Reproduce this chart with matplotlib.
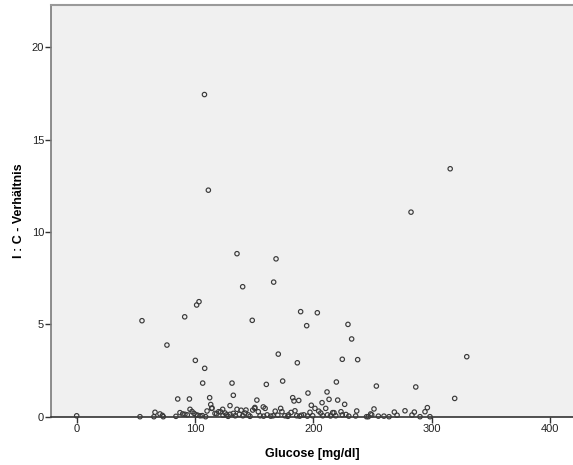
import matplotlib
matplotlib.use("Agg")
import matplotlib.pyplot as plt

plt.rcParams["font.family"] = ["Liberation Sans", "DejaVu Sans"]

# Glucose [mg/dl] and insulin : carbohydrate ratio per observation
glucose = [
    108.0, 111.3, 315.7, 282.6, 135.5, 168.5, 140.3, 166.5, 103.4, 101.4,
    91.3, 55.2, 148.4, 189.3, 203.4, 194.4, 229.3, 232.4, 76.3, 170.4,
    100.3, 186.5, 224.5, 237.5, 329.7, 108.2, 106.5, 131.3, 160.3, 174.1,
    219.5, 253.3, 286.6, 211.6, 195.5, 132.4, 319.5, 182.6, 112.4,
    85.4, 95.3, 152.3, 183.7, 187.7, 213.3, 220.6, 207.4, 226.5, 198.3,
    113.3, 129.6, 157.7, 296.4, 150.6,
    0.0, 53.5, 65.3, 66.2, 70.4, 72.5, 73.2,
    83.9, 87.3, 89.6, 91.5, 93.5, 95.8, 97.5, 99.2, 100.9, 102.3, 104.3, 106.2, 109.0,
    110.2, 114.4, 116.9, 118.3, 120.0, 121.7, 123.4, 123.7, 125.4, 126.8,
    129.6, 132.4, 135.5, 137.5, 139.0, 140.5, 142.3, 143.1, 145.1, 148.8,
    150.5, 153.5, 155.0, 159.3, 161.0, 164.0, 167.8, 170.0, 172.4, 173.5,
    176.0, 179.0, 181.2, 184.5, 186.0, 190.0, 192.0, 195.0, 197.2, 201.4,
    204.6, 206.3, 208.0, 210.5, 212.0, 216.4, 217.5, 219.0, 223.4, 224.5,
    227.6, 230.0, 235.8, 236.7, 245.0, 246.5, 248.5, 249.4, 251.3, 255.0,
    259.7, 264.0, 268.5, 270.8, 277.5, 283.4, 285.4, 290.2, 294.4, 298.6,
    114.1, 128.0, 134.0, 146.5, 158.0, 166.0, 178.5, 188.5, 199.5, 214.5,
]
ic_ratio = [
    17.45, 12.27, 13.43, 11.08, 8.83, 8.55, 7.04, 7.29, 6.23, 6.05,
    5.41, 5.20, 5.22, 5.69, 5.63, 4.93, 5.00, 4.21, 3.88, 3.39,
    3.05, 2.92, 3.11, 3.09, 3.25, 2.62, 1.82, 1.82, 1.75, 1.93,
    1.88, 1.66, 1.61, 1.34, 1.28, 1.16, 0.99, 1.03, 1.03,
    0.96, 0.96, 0.90, 0.85, 0.88, 0.94, 0.90, 0.76, 0.67, 0.62,
    0.66, 0.60, 0.53, 0.49, 0.50,
    0.05, 0.00, 0.00, 0.24, 0.15, 0.07, 0.00,
    0.02, 0.22, 0.15, 0.13, 0.10, 0.40, 0.28, 0.18, 0.10, 0.08, 0.05, 0.06, 0.00,
    0.31, 0.47, 0.18, 0.16, 0.27, 0.26, 0.40, 0.08, 0.20, 0.10,
    0.13, 0.18, 0.40, 0.13, 0.35, 0.05, 0.20, 0.36, 0.10, 0.36,
    0.45, 0.27, 0.05, 0.45, 0.10, 0.03, 0.30, 0.08, 0.45, 0.27,
    0.05, 0.10, 0.23, 0.32, 0.05, 0.08, 0.10, 0.03, 0.24, 0.45,
    0.30, 0.20, 0.05, 0.45, 0.10, 0.22, 0.22, 0.05, 0.27, 0.10,
    0.12, 0.03, 0.04, 0.31, 0.00, 0.00, 0.15, 0.10, 0.42, 0.03,
    0.03, 0.00, 0.25, 0.08, 0.32, 0.09, 0.25, 0.00, 0.27, 0.00,
    0.45, 0.02, 0.05, 0.02, 0.03, 0.05, 0.02, 0.03, 0.05, 0.04,
]

x_ticks = [0, 100, 200, 300, 400]
y_ticks = [0, 5, 10, 15, 20]

W, H = 573, 465
fig = plt.figure(figsize=(W / 100, H / 100), dpi=100)
ax = fig.add_axes([51 / W, 1 - 416.7 / H, 1 - 51 / W, (416.7 - 5) / H])
ax.set_facecolor("#f0f0f0")

ax.scatter(glucose, ic_ratio, s=10, facecolors="none", edgecolors="#3a3a3a",
           linewidths=0.85, clip_on=False, zorder=3)

ax.set_xlim(-21.7, 419.5)
ax.set_ylim(0, 22.3)
ax.set_xticks(x_ticks)
ax.set_yticks(y_ticks)
ax.tick_params(axis="both", direction="out", length=4, width=1.0,
               color="#333333", labelsize=8, labelcolor="#222222", pad=1)

ax.spines["right"].set_visible(False)
ax.spines["top"].set_color("#9a9a9a")
ax.spines["top"].set_linewidth(1.5)
ax.spines["left"].set_color("#7a7a7a")
ax.spines["left"].set_linewidth(1.2)
ax.spines["bottom"].set_color("#333333")
ax.spines["bottom"].set_linewidth(1.2)

ax.set_xlabel("Glucose [mg/dl]", fontsize=9, fontweight="bold", labelpad=10)
ax.set_ylabel("I : C - Verhältnis", fontsize=9, fontweight="bold", labelpad=5)

fig.savefig("out.png", dpi=100)
